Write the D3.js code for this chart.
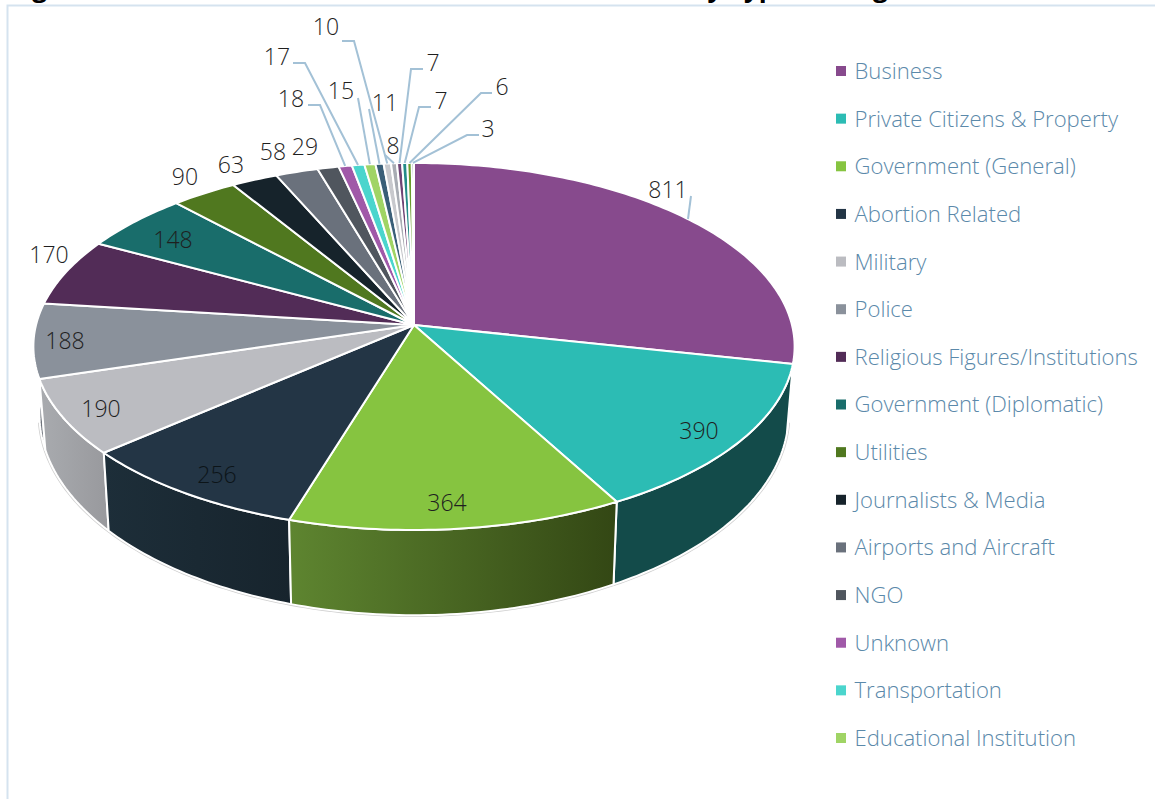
<!DOCTYPE html>
<html>
<head>
<meta charset="utf-8">
<script src="https://cdn.jsdelivr.net/npm/d3@7/dist/d3.min.js"></script>
<style>
body { margin: 0; background: #fff; }
svg { display: block; }
</style>
</head>
<body>
<svg id="myGraph" width="1155" height="799"></svg>
<script>
// legend only shows the first 15 names, the rest is cut off in the source
var categories = ["Business", "Private Citizens & Property", "Government (General)", "Abortion Related",
    "Military", "Police", "Religious Figures/Institutions", "Government (Diplomatic)", "Utilities",
    "Journalists & Media", "Airports and Aircraft", "NGO", "Unknown", "Transportation", "Educational Institution"];
var values = [811, 390, 364, 256, 190, 188, 170, 148, 90, 63, 58, 29, 18, 17, 15, 11, 10, 8, 7, 7, 6, 3];
var colors = ["#874a8d", "#2cbcb4", "#86c440", "#233545", "#bbbcc1", "#8a919b", "#522c57", "#196d6b",
    "#50781f", "#16232b", "#6a717c", "#50565e", "#a059a8", "#4bd5cd", "#a0d465", "#3a5f78",
    "#c8c9cd", "#a8acb3", "#6f4475", "#238b88", "#6a9c2b", "#2a3f4f"];
// wall shading of the slices that show a side, left and right end of the gradient
var wallShades = [["#5c2f60", "#5c2f60"], ["#134b4a", "#134b4a"], ["#5e8530", "#334714"], ["#1d2e39", "#17242d"],
    ["#a9abaf", "#98999d"], ["#6f747c", "#6f747c"]];

// where each value label sits: [x, y], with the leader tail and elbow when it has one
var labelSpots = [
    {at: [668, 190], line: [[691, 196], [688, 219]]}, {at: [699, 431]}, {at: [447, 503]}, {at: [217, 475]}, {at: [101, 409]},
    {at: [65, 341]}, {at: [49, 255]}, {at: [173, 240]}, {at: [185, 177]}, {at: [231, 165]},
    {at: [273, 152]}, {at: [305, 147]},
    {at: [291, 99], line: [[308, 105], [320, 105]]},
    {at: [277, 57], line: [[293, 63], [305, 63]]},
    {at: [341, 91], line: [[358, 98]]},
    {at: [385, 103], line: [[369, 109]]},
    {at: [326, 27], line: [[342, 41], [354, 41]]},
    {at: [393, 146], line: [[385, 155]]},
    {at: [433, 63], line: [[423, 69], [411, 69]]},
    {at: [441, 101], line: [[431, 107], [419, 107]]},
    {at: [502, 87], line: [[492, 93], [481, 93]]},
    {at: [488, 129], line: [[479, 135], [467, 135]]}
];

var svg = d3.select("#myGraph");
var fontName = "'Open Sans', 'Noto Sans', sans-serif";

// frame of the pasted chart, and the bottom of the clipped title above it
svg.append("path")
    .attr("d", "M1155,5.5H7.5V799")
    .attr("fill", "none")
    .attr("stroke", "#d5e3ef")
    .attr("stroke-width", 2);
svg.append("text").attr("x", 10).attr("y", -3)
    .attr("font-family", fontName).attr("font-weight", 700).attr("font-size", 26)
    .text("Figure");
svg.append("text").attr("x", 691).attr("y", -3)
    .attr("font-family", fontName).attr("font-weight", 700).attr("font-size", 26)
    .text("by Type of Target");

// perspective: unit circle -> screen, k is the foreshortening
var k = 0.117;
function topPoint(a, r) {
    var u = r * Math.sin(a), v = -r * Math.cos(a), w = 1 - k * v;
    return [414 + 378 * u / w, 325 + 181 * v / w];
}
function sidePoint(a) {
    var u = Math.sin(a), v = -Math.cos(a), w = 1 - k * v;
    return [414 + 372 * u / w, 391 + 198 * v / w];
}

var arcs = d3.pie().sort(null)(values);
var step = Math.PI / 180;

function rim(a0, a1, fn) {
    var n = Math.max(2, Math.ceil((a1 - a0) / step));
    return d3.range(n + 1).map(function(i) {
        return fn(a0 + (a1 - a0) * i / n, 1);
    });
}
var line = d3.line();

var defs = svg.append("defs");

// outline under the walls, the source has a thin grey edge there
svg.append("path")
    .attr("d", line(rim(Math.PI * 0.55, Math.PI * 1.45, sidePoint)))
    .attr("fill", "none")
    .attr("stroke", "#cfcfcf")
    .attr("stroke-width", 3.5);

// side walls, back ones first
var walls = arcs.slice().sort(function(a, b) {
    return Math.cos(b.startAngle / 2 + b.endAngle / 2) - Math.cos(a.startAngle / 2 + a.endAngle / 2);
});
walls.forEach(function(d) {
    var i = d.index;
    var top = rim(d.startAngle, d.endAngle, topPoint);
    var bottom = rim(d.startAngle, d.endAngle, sidePoint).reverse();
    var pts = top.concat(bottom);
    var xs = d3.extent(pts, function(p) { return p[0]; });
    var shade = wallShades[i] || [d3.color(colors[i]).darker(0.6), d3.color(colors[i]).darker(1)];
    var grad = defs.append("linearGradient")
        .attr("id", "wall" + i)
        .attr("gradientUnits", "userSpaceOnUse")
        .attr("x1", xs[0]).attr("x2", xs[1]).attr("y1", 0).attr("y2", 0);
    grad.append("stop").attr("offset", 0).attr("stop-color", shade[0]);
    grad.append("stop").attr("offset", 1).attr("stop-color", shade[1]);
    svg.append("path")
        .attr("d", line(pts) + "Z")
        .attr("fill", "url(#wall" + i + ")")
        .attr("stroke", "#fff")
        .attr("stroke-width", 2)
        .attr("stroke-linejoin", "round");
});

// top faces
svg.selectAll("path.slice")
    .data(arcs)
    .enter()
    .append("path")
    .attr("class", "slice")
    .attr("d", function(d) {
        return line([topPoint(0, 0)].concat(rim(d.startAngle, d.endAngle, topPoint))) + "Z";
    })
    .attr("fill", function(d) { return colors[d.index]; })
    .attr("stroke", "#fff")
    .attr("stroke-width", 2)
    .attr("stroke-linejoin", "round");

// leader lines run from the label to the middle of the slice rim
svg.selectAll("path.leader")
    .data(arcs.filter(function(d) { return labelSpots[d.index].line && d.index > 0; }))
    .enter()
    .append("path")
    .attr("class", "leader")
    .attr("d", function(d) {
        var mid = (d.startAngle + d.endAngle) / 2;
        return line(labelSpots[d.index].line.concat([topPoint(mid, 1)]));
    })
    .attr("fill", "none")
    .attr("stroke", "#a3c1d6")
    .attr("stroke-width", 2);
// the big slice only has a short tick beside its label
svg.append("path")
    .attr("d", line(labelSpots[0].line))
    .attr("fill", "none")
    .attr("stroke", "#a3c1d6")
    .attr("stroke-width", 2);

svg.selectAll("text.value")
    .data(arcs)
    .enter()
    .append("text")
    .attr("class", "value")
    .attr("x", function(d) { return labelSpots[d.index].at[0]; })
    .attr("y", function(d) { return labelSpots[d.index].at[1]; })
    .attr("dy", "0.36em")
    .attr("text-anchor", "middle")
    .attr("font-family", fontName)
    .attr("font-weight", 300)
    .attr("font-size", 23)
    .attr("fill", function(d) { return d.index == 3 ? "#0c1418" : "#1f1f1f"; })
    .text(function(d) { return d.data; });

// legend
var legendY = d3.scalePoint().domain(categories).range([71, 738]);
var legend = svg.selectAll("g.legend")
    .data(categories)
    .enter()
    .append("g")
    .attr("class", "legend")
    .attr("transform", function(d) { return "translate(836," + legendY(d) + ")"; });
legend.append("rect")
    .attr("x", 0).attr("y", -5)
    .attr("width", 10).attr("height", 10)
    .attr("fill", function(d, i) { return colors[i]; });
legend.append("text")
    .attr("x", 18.5)
    .attr("dy", "0.36em")
    .attr("font-family", fontName)
    .attr("font-weight", 300)
    .attr("font-size", 22.1)
    .attr("fill", "#5b89aa")
    .text(function(d) { return d; });
</script>
</body>
</html>
